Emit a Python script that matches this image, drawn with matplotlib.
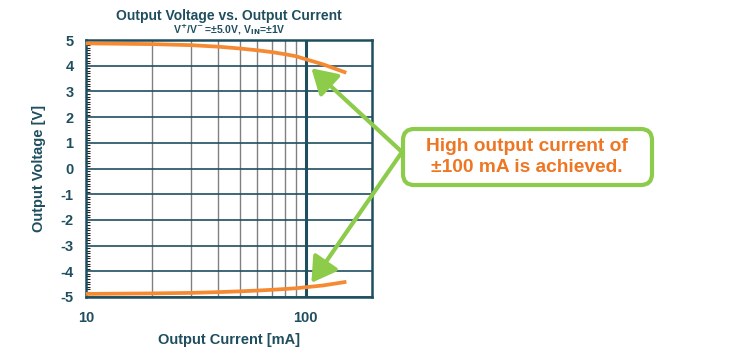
import numpy as np
import matplotlib.pyplot as plt
import matplotlib as mpl
from matplotlib.patches import FancyBboxPatch

mpl.rcParams.update({
    "font.family": ["Liberation Sans", "DejaVu Sans"],
    "font.weight": "bold",
    "axes.unicode_minus": False,
})

teal = "#1F4E5F"
orange = "#F58A33"
green = "#8DCB4A"

# Data
current_ma = [10, 20, 30, 40, 50, 60, 70, 80, 90, 100, 120, 150]
v_pos = [4.87, 4.84, 4.80, 4.74, 4.67, 4.60, 4.53, 4.45, 4.37, 4.25, 4.05, 3.75]
v_neg = [-4.88, -4.86, -4.84, -4.81, -4.78, -4.75, -4.72, -4.69, -4.66, -4.62, -4.55, -4.42]
y_ticks = list(range(-5, 6))

fig = plt.figure(figsize=(7.4, 3.52), dpi=100)
ax = fig.add_axes([86 / 740, 1 - 297 / 352, 286 / 740, 257 / 352])

ax.set_xscale("log")
ax.set_xlim(10, 200)
ax.set_ylim(-5, 5)

# grid
for x in [20, 30, 40, 50, 60, 70, 80, 90]:
    ax.axvline(x, color="#808080", lw=1.0, zorder=1)
ax.axvline(100, color=teal, lw=2.2, zorder=2)
for y in y_ticks:
    ax.axhline(y, color=teal, lw=1.2, zorder=1)

ax.plot(current_ma, v_pos, color=orange, lw=2.7, zorder=3)
ax.plot(current_ma, v_neg, color=orange, lw=2.7, zorder=3)

for s in ax.spines.values():
    s.set_color(teal)
    s.set_linewidth(1.8)

ax.set_xticks([10, 100])
ax.set_xticklabels(["10", "100"])
ax.xaxis.set_minor_locator(mpl.ticker.NullLocator())
ax.set_yticks(y_ticks)
ax.yaxis.set_minor_locator(mpl.ticker.MultipleLocator(0.1))
ax.tick_params(axis="both", which="major", length=0, labelsize=10.5, labelcolor=teal)
ax.tick_params(axis="y", which="minor", direction="in", length=3, width=0.8, color="#222222")
ax.tick_params(axis="y", pad=9)
ax.tick_params(axis="x", pad=10)

ax.set_xlabel("Output Current [mA]", fontsize=10.5, color=teal, fontweight="bold", labelpad=6)
ax.set_ylabel("Output Voltage [V]", fontsize=10.5, color=teal, fontweight="bold", labelpad=10)

fig.text(229 / 740, 1 - 16 / 352, "Output Voltage vs. Output Current",
         ha="center", va="center", fontsize=10, color=teal, fontweight="bold")
fig.text(229 / 740, 1 - 30 / 352,
         r"V$^{+}$/V$^{\!-}$=±5.0V, V$_{\mathrm{IN}}$=±1V",
         ha="center", va="center", fontsize=7.5, color=teal, fontweight="bold")

# annotation box and arrows
box = FancyBboxPatch((403 / 740, 1 - 185 / 352), 249 / 740, 56 / 352,
                     boxstyle="round,pad=0,rounding_size=0.015",
                     transform=fig.transFigure, fc="white", ec=green, lw=3,
                     mutation_aspect=740 / 352, zorder=4)
fig.patches.append(box)
fig.text(527 / 740, 1 - 157 / 352, "High output current of\n±100 mA is achieved.",
         ha="center", va="center", fontsize=13.8, color="#EE7623", fontweight="bold",
         linespacing=1.25, zorder=5)

for tip in [(106, 3.9), (106, -4.45)]:
    ax.annotate("", xy=tip, xycoords="data",
                xytext=(402, 352 - 152), textcoords="figure pixels",
                arrowprops=dict(arrowstyle="-|>,head_length=1.0,head_width=0.6",
                                color=green, lw=3, mutation_scale=15,
                                shrinkA=0, shrinkB=0),
                annotation_clip=False, zorder=5)

fig.savefig("out.png", dpi=100)
